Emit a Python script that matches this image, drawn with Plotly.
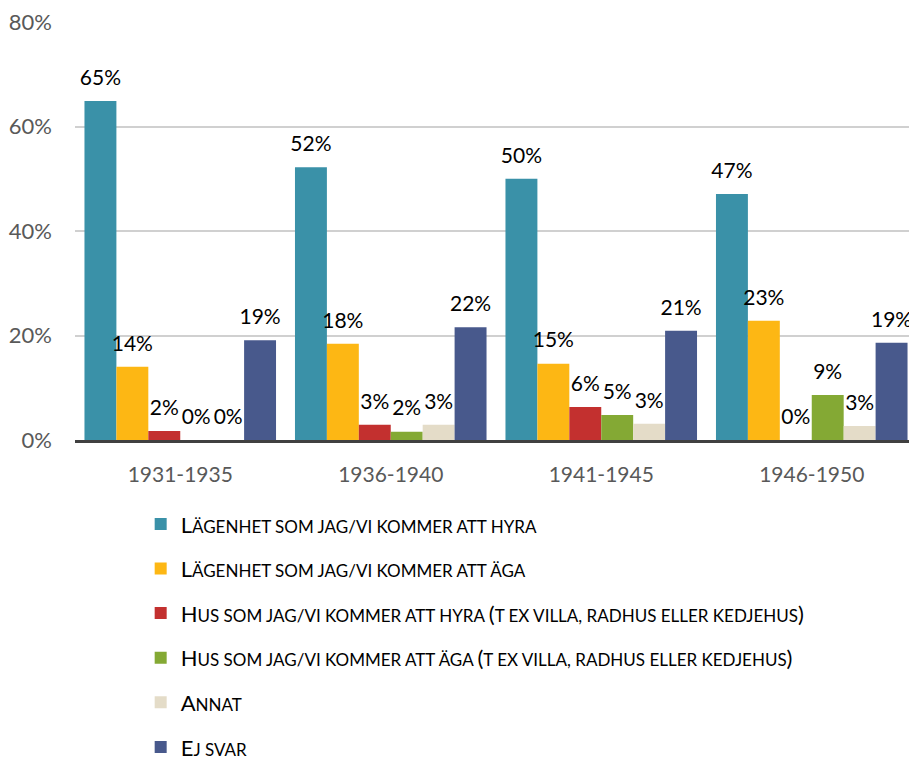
import plotly.graph_objects as go

categories = ["1931-1935", "1936-1940", "1941-1945", "1946-1950"]

SC = "font-size:17px"
series_names = [
    f"L<span style='{SC}'>ÄGENHET SOM JAG/VI KOMMER ATT HYRA</span>",
    f"L<span style='{SC}'>ÄGENHET SOM JAG/VI KOMMER ATT ÄGA</span>",
    f"H<span style='{SC}'>US SOM JAG/VI KOMMER ATT HYRA </span>(<span style='{SC}'>T EX VILLA, RADHUS ELLER KEDJEHUS</span>)",
    f"H<span style='{SC}'>US SOM JAG/VI KOMMER ATT ÄGA </span>(<span style='{SC}'>T EX VILLA, RADHUS ELLER KEDJEHUS</span>)",
    f"A<span style='{SC}'>NNAT</span>",
    f"E<span style='{SC}'>J SVAR</span>",
]

hyra_lgh = [64.9, 52.2, 50.0, 47.1]
aga_lgh = [14.0, 18.4, 14.6, 22.8]
hyra_hus = [1.7, 2.9, 6.3, 0.0]
aga_hus = [0.0, 1.6, 4.8, 8.6]
annat = [0.0, 2.9, 3.1, 2.7]
ej_svar = [19.1, 21.6, 20.9, 18.6]

values = [hyra_lgh, aga_lgh, hyra_hus, aga_hus, annat, ej_svar]
colors = ["#3a91a8", "#fdb714", "#c3302f", "#84a934", "#e4dcc8", "#48598c"]

FONT = "Lato, 'Open Sans', sans-serif"
GAP = 0.09

fig = go.Figure()
for i, (name, vals, col) in enumerate(zip(series_names, values, colors)):
    fig.add_trace(go.Bar(
        x=categories, y=vals, name=name,
        marker=dict(color=col, line=dict(width=0)),
        legendgroup=f"g{i}", hoverinfo="skip",
    ))
# value labels, grouped to sit above each bar
for i, vals in enumerate(values):
    fig.add_trace(go.Scatter(
        x=categories, y=vals, mode="markers+text",
        marker=dict(size=16, opacity=0),
        texttemplate="%{y:.0f}%", textposition="top center",
        textfont=dict(size=21, color="#000000", family=FONT),
        cliponaxis=False, showlegend=False, hoverinfo="skip",
    ))

fig.update_layout(
    width=909, height=750,
    barmode="group", bargap=GAP, bargroupgap=0,
    scattermode="group", scattergap=GAP,
    plot_bgcolor="white", paper_bgcolor="white",
    margin=dict(l=67, r=0, t=14, b=318, autoexpand=False),
    font=dict(family=FONT, size=21, color="#595959"),
    showlegend=True,
    legend=dict(
        orientation="v", x=0.078, xanchor="left", y=-0.151, yanchor="top",
        font=dict(size=22, color="#000000", family=FONT),
        tracegroupgap=13, itemwidth=30,
    ),
    xaxis=dict(
        showline=True, linecolor="#404040", linewidth=3,
        ticks="", tickfont=dict(size=21, color="#595959"),
        showgrid=False, automargin=False, ticklabelstandoff=14,
    ),
    yaxis=dict(
        range=[0, 80], dtick=20, ticksuffix="%",
        showgrid=True, gridcolor="#d0d0d0", gridwidth=1.5,
        zeroline=False, showline=False, automargin=False,
        tickfont=dict(size=22, color="#595959"),
        ticklabelstandoff=22, ticklabeloverflow="allow",
    ),
)

fig.write_html("out.html")
